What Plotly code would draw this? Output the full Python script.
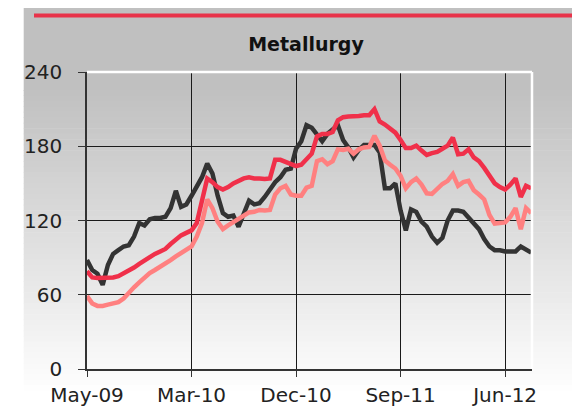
import pandas as pd
import plotly.graph_objects as go

# ---------------- data (biweekly points) ----------------
START_DATE = "2009-05-29"
N_POINTS = 86
TICK_LABELS = ["May-09", "Mar-10", "Dec-10", "Sep-11", "Jun-12"]
TICK_DATES = ["2009-05-29", "2010-03-05", "2010-12-10", "2011-09-16", "2012-06-22"]
Y_TICKS = [0, 60, 120, 180, 240]

metallurgy = [
    88, 80, 77, 68, 84, 93, 96, 99, 100, 107,
    118, 116, 121, 122, 122, 123, 130, 144, 131, 133,
    140, 148, 155, 166, 158, 140, 126, 123, 124, 115,
    125, 136, 133, 134, 139, 145, 151, 155, 161, 162,
    178, 184, 197, 195, 189, 184, 190, 194, 197, 185,
    179, 171, 177, 181, 181, 181, 175, 146, 146, 150,
    128, 112, 129, 127, 119, 115, 107, 102, 106, 120,
    128, 128, 127, 122, 118, 113, 105, 99, 96, 96,
    95, 95, 95, 99, 96, 94,
]
red_series = [
    79, 74, 73.5, 73.5, 74, 74, 75, 77, 79, 82,
    85, 88, 91, 93, 95, 97, 101, 105, 108, 110,
    112, 118, 135, 154, 151, 147, 145, 147, 150, 152,
    154, 155, 154, 154, 153.5, 154, 169, 169, 167.5, 166,
    164, 165, 169, 174, 188, 190, 190, 191.5, 201, 203.5,
    204, 204, 204.5, 205, 205, 210, 200, 197.5, 194, 191,
    185, 178.5, 178.5, 180.5, 176.5, 173, 174.5, 175.5, 178, 180.5,
    187, 173.5, 174, 177.5, 171, 168, 162.5, 156, 150, 147,
    145, 149, 154, 139, 148, 146,
]
pink_series = [
    59, 53, 51, 51, 52, 53, 54, 57, 62, 66,
    70, 74, 77.5, 80, 82.5, 84.5, 88, 91, 94, 96,
    99, 107, 118, 137, 130, 119, 113, 116, 118.5, 121,
    124, 126.5, 127, 128.5, 128, 128.5, 141, 146, 148, 141,
    140, 140, 146.5, 148, 168, 169.5, 165.5, 168, 177.5, 177,
    178, 174, 177.5, 179, 179.5, 188.5, 180.5, 168.5, 165, 162,
    156, 146, 151, 154, 149, 142, 141.5, 146, 149.5, 152,
    157.5, 148, 151, 152, 144.5, 141, 137, 124.5, 117.5, 118,
    118.5, 123, 130, 113, 130, 126,
]

dates = pd.date_range(START_DATE, periods=N_POINTS, freq="14D")

# ---------------- layout geometry ----------------
W, H = 580, 408
OFF = 8  # page body margin offset of the figure in the window
PLOT_L, PLOT_T, PLOT_R, PLOT_B = 87, 72, 532, 369  # window pixel box of the plot area
ML, MT = PLOT_L - OFF, PLOT_T - OFF
PW, PH = PLOT_R - PLOT_L, PLOT_B - PLOT_T
MR, MB = W - ML - PW, H - MT - PH


def px2x(px):
    return (px - OFF - ML) / PW


def py2y(py):
    return (MT + PH - (py - OFF)) / PH


FONT = "DejaVu Sans"

fig = go.Figure()
fig.add_trace(go.Scatter(x=dates, y=metallurgy, mode="lines",
                         line=dict(color="#333333", width=4.5)))
fig.add_trace(go.Scatter(x=dates, y=pink_series, mode="lines",
                         line=dict(color="#ff8080", width=4.5)))
fig.add_trace(go.Scatter(x=dates, y=red_series, mode="lines",
                         line=dict(color="#f0304a", width=4.5)))

shapes = []
# gray panel with vertical gradient (decoration)
panel_left, panel_top = 23.7, 4.8
grad_start, grad_end = 90.0, 395.0
shapes.append(dict(type="rect", xref="paper", yref="paper", layer="below",
                   x0=px2x(panel_left), x1=px2x(W + 10),
                   y0=py2y(grad_start + 1), y1=py2y(panel_top),
                   line=dict(width=0), fillcolor="#c0c0c0"))
n_bands = 60
band_h = (H + 10 - grad_start) / n_bands
for k in range(n_bands):
    top = grad_start + k * band_h
    t = min(1.0, (top + band_h / 2 - grad_start) / (grad_end - grad_start))
    g = int(round(192 + (255 - 192) * t))
    shapes.append(dict(type="rect", xref="paper", yref="paper", layer="below",
                       x0=px2x(panel_left), x1=px2x(W + 10),
                       y0=py2y(top + band_h + 0.6), y1=py2y(top),
                       line=dict(width=0), fillcolor=f"rgb({g},{g},{g})"))
# red rule at top
shapes.append(dict(type="line", xref="paper", yref="paper",
                   x0=px2x(34), x1=px2x(577), y0=py2y(15.5), y1=py2y(15.5),
                   line=dict(color="#e8334a", width=4)))
# white top and right borders of the plot area
shapes.append(dict(type="line", xref="paper", yref="paper",
                   x0=0, x1=1, y0=1, y1=1, line=dict(color="white", width=2.5)))
shapes.append(dict(type="line", xref="paper", yref="paper",
                   x0=1, x1=1, y0=0, y1=1, line=dict(color="white", width=2.5)))

fig.update_layout(
    width=W, height=H,
    margin=dict(l=ML, r=MR, t=MT, b=MB, pad=0, autoexpand=False),
    paper_bgcolor="white",
    plot_bgcolor="rgba(0,0,0,0)",
    showlegend=False,
    shapes=shapes,
    title=dict(text="<b>Metallurgy</b>", x=(306 - OFF) / W, xanchor="center",
               y=1 - (44 - OFF) / H, yanchor="middle",
               font=dict(family=FONT, size=19, color="#111111")),
    xaxis=dict(
        type="date",
        range=[dates[0], pd.Timestamp(START_DATE) + pd.Timedelta(days=1192)],
        tickvals=TICK_DATES, ticktext=TICK_LABELS,
        showgrid=True, gridcolor="#1a1a1a", gridwidth=1,
        showline=True, linecolor="#333333", linewidth=1.5,
        ticks="outside", ticklen=6, tickcolor="#333333", tickwidth=1.2,
        tickfont=dict(family=FONT, size=20, color="#222222"),
        ticklabelstandoff=1, automargin=False,
        zeroline=False, fixedrange=True,
    ),
    yaxis=dict(
        range=[0, 240],
        tickvals=Y_TICKS,
        showgrid=True, gridcolor="#1a1a1a", gridwidth=1,
        showline=True, linecolor="#333333", linewidth=1.5,
        ticks="outside", ticklen=7, tickcolor="#333333", tickwidth=1.2,
        tickfont=dict(family=FONT, size=20, color="#222222"),
        ticklabelstandoff=12, automargin=False,
        zeroline=False, fixedrange=True,
    ),
)

fig.write_html("out.html")
